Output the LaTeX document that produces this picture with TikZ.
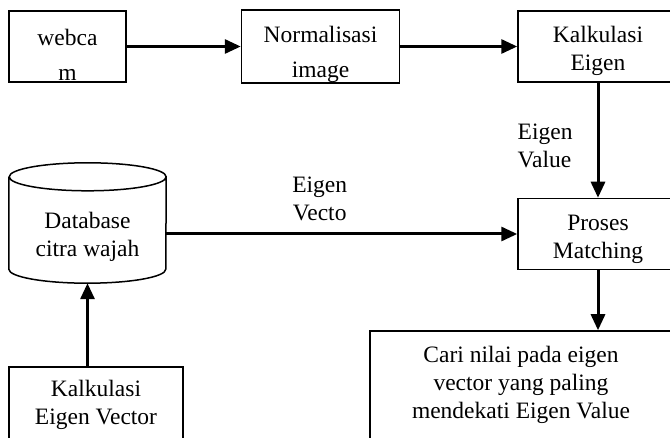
\documentclass[tikz,border=0pt]{standalone}
\usepackage{fontspec}
\setmainfont{Liberation Serif}
\usetikzlibrary{positioning, arrows.meta}

\begin{document}
\begin{tikzpicture}[x=1pt, y=1pt,
    font=\fontsize{23.5}{28}\selectfont, node distance=114pt and 114pt,
    box/.style={draw, line width=1.5pt, minimum height=71pt, inner sep=0pt, align=center},
    low/.style={text height=#1},
    lab/.style={align=left, inner sep=0pt},
    arr/.style={-{Triangle[length=16pt, width=14pt]}, line width=3pt}]
    \useasboundingbox (0,0) rectangle (670,437);
    \clip (0,0) rectangle (670,437);
    \node[box, low=68pt, minimum width=117pt] (cam) at (67.5,390.5) {webca\\[7pt] m};
    \node[box, low=68pt, minimum width=158pt, right=114pt of cam] (norm) {Normalisasi\\[7pt] image};
    \node[box, low=54pt, minimum width=160pt, right=117pt of norm] (eig) {Kalkulasi\\ Eigen};
    \node[box, low=54pt, minimum width=160pt, below=115pt of eig] (match) {Proses\\ Matching};
    \node[box, minimum width=302pt, minimum height=108pt] (cari) at (521,52)
      {Cari nilai pada eigen\\ vector yang paling\\ mendekati Eigen Value};
    \node[box, minimum width=174pt, minimum height=76pt] (vec) at (96,32) {Kalkulasi\\ Eigen Vector};
    \node[low=72pt, minimum width=157pt, minimum height=120pt, inner sep=0pt, align=center] (db) at (87.5,214)
      {Database\\ citra wajah};
    % database drum
    \draw[line width=1.5pt] ([yshift=-14pt]db.north west) -- ([yshift=14pt]db.south west)
      arc[start angle=180, end angle=360, x radius=78.5pt, y radius=14pt]
      -- ([yshift=-14pt]db.north east)
      arc[start angle=0, end angle=360, x radius=78.5pt, y radius=14pt];
    \draw[arr] (cam) -- (norm);
    \draw[arr] (norm) -- (eig);
    \draw[arr] (eig) -- node[left=24pt, yshift=-6pt, lab]{Eigen\\ Value} (match);
    \draw[arr] (db.east |- match.west) -- node[above=12pt, xshift=-22pt, lab, align=center]{Eigen\\ Vecto} (match.west);
    \draw[arr] (match.south) -- (match.south |- cari.north);
    \draw[arr] (db.south |- vec.north) -- (db.south);
  \end{tikzpicture}
\end{document}
